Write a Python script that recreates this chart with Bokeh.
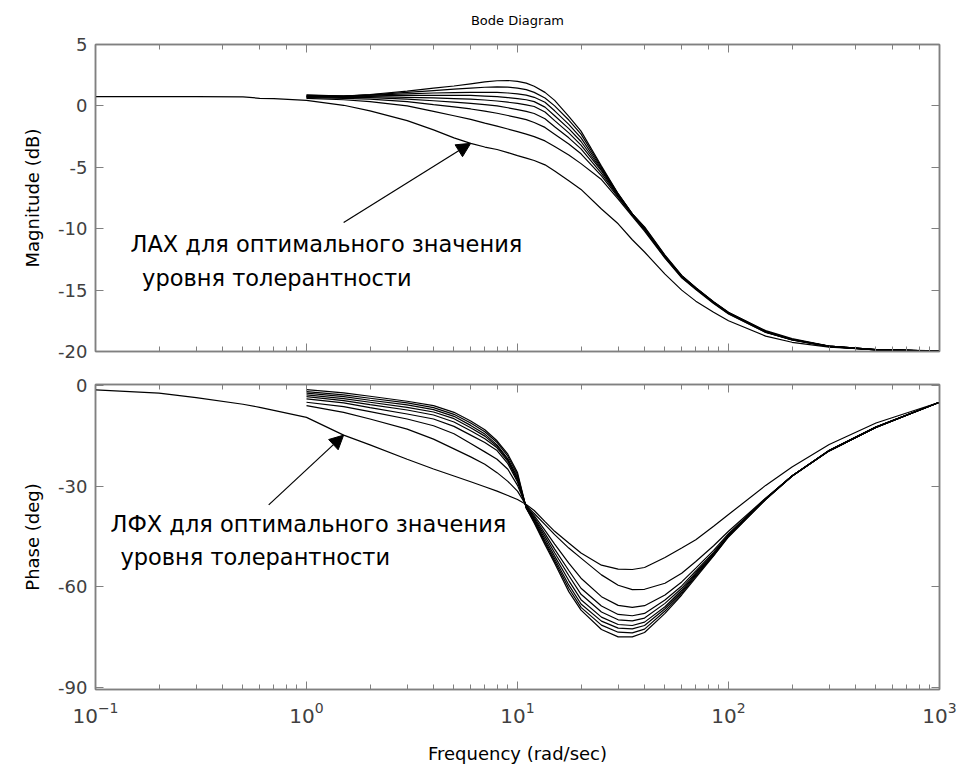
from bokeh.plotting import figure
from bokeh.models import Range1d, LogAxis, LinearAxis, FixedTicker, LogTicker, Arrow, NormalHead, Label
from bokeh.layouts import column
from bokeh.embed import file_html
from bokeh.resources import INLINE

# ---------------- data ----------------
FREQ = [1, 1.5, 2, 3, 4, 5, 6, 7, 8, 9, 10, 11, 12, 13.5, 15, 17.5, 20, 25, 30, 35,
        40, 50, 60, 70, 85, 100, 150, 200, 300, 500, 1000]

# optimal tolerance curve (starts at 0.1 rad/s)
OPT_FREQ = [0.1, 0.2, 0.3, 0.5, 0.6, 0.7] + FREQ
OPT_MAG = [0.75, 0.75, 0.75, 0.74, 0.62, 0.6,
           0.45, 0.05, -0.4, -1.2, -1.95, -2.6, -3.05, -3.35, -3.55, -3.8, -4.05, -4.25, -4.45, -4.8, -5.3,
           -6.1, -6.8, -8.4, -9.6, -10.9, -11.9, -13.7, -15.0, -15.9, -16.8, -17.5, -18.75, -19.25, -19.65, -19.85, -19.95]
OPT_PHASE = [-1.3, -2.3, -3.6, -5.6, -6.5, -7.4,
             -9.5, -14.8, -17.7, -22.0, -24.9, -27.0, -28.7, -30.2, -31.5, -32.8, -34.0, -35.5, -37.3, -40.6, -43.5,
             -47.0, -50.0, -53.6, -54.8, -54.9, -54.3, -51.3, -48.5, -46.0, -42.0, -38.5, -29.8, -24.3, -17.6, -11.2, -5.0]

# family of responses for other tolerance levels (start at 1 rad/s)
MAG_1 = [0.62, 0.5, 0.35, 0.0, -0.45, -0.8, -1.1, -1.4, -1.65, -1.88, -2.1, -2.3, -2.5, -2.85, -3.3, -4.0, -4.7, -6.0, -7.6, -9.0, -10.2, -12.4, -14.0, -14.95, -16.1, -16.95, -18.45, -19.05, -19.6, -19.87, -19.97]
MAG_2 = [0.68, 0.62, 0.55, 0.35, 0.1, -0.08, -0.25, -0.42, -0.6, -0.78, -0.95, -1.12, -1.35, -1.75, -2.3, -3.1, -3.9, -5.7, -7.45, -8.9, -10.1, -12.35, -13.95, -14.9, -16.05, -16.9, -18.42, -19.05, -19.6, -19.86, -19.97]
MAG_3 = [0.72, 0.7, 0.68, 0.55, 0.42, 0.3, 0.2, 0.1, 0.0, -0.15, -0.3, -0.45, -0.62, -1.05, -1.7, -2.6, -3.5, -5.5, -7.35, -8.85, -10.05, -12.3, -13.9, -14.9, -16.0, -16.9, -18.4, -19.03, -19.58, -19.86, -19.97]
MAG_4 = [0.75, 0.74, 0.76, 0.7, 0.65, 0.6, 0.55, 0.48, 0.4, 0.3, 0.2, 0.08, -0.05, -0.5, -1.2, -2.2, -3.2, -5.3, -7.3, -8.85, -10.0, -12.3, -13.9, -14.85, -16.0, -16.88, -18.4, -19.02, -19.58, -19.86, -19.97]
MAG_5 = [0.78, 0.77, 0.82, 0.85, 0.85, 0.85, 0.85, 0.8, 0.75, 0.68, 0.6, 0.5, 0.35, -0.1, -0.8, -1.85, -2.9, -5.2, -7.25, -8.85, -10.0, -12.25, -13.88, -14.85, -16.0, -16.86, -18.38, -19.02, -19.57, -19.85, -19.97]
MAG_6 = [0.8, 0.79, 0.87, 0.98, 1.05, 1.08, 1.1, 1.11, 1.1, 1.05, 0.98, 0.88, 0.7, 0.3, -0.4, -1.5, -2.6, -5.1, -7.2, -8.8, -9.95, -12.25, -13.85, -14.82, -15.98, -16.85, -18.36, -19.0, -19.57, -19.85, -19.97]
MAG_7 = [0.85, 0.8, 0.9, 1.1, 1.25, 1.36, 1.45, 1.52, 1.55, 1.53, 1.45, 1.32, 1.1, 0.65, 0.0, -1.15, -2.3, -5.0, -7.18, -8.8, -9.9, -12.2, -13.83, -14.8, -15.97, -16.83, -18.35, -19.0, -19.56, -19.85, -19.97]
MAG_8 = [0.9, 0.8, 0.93, 1.2, 1.45, 1.62, 1.8, 1.95, 2.05, 2.07, 2.0, 1.85, 1.6, 1.1, 0.45, -0.85, -2.05, -4.9, -7.15, -8.8, -9.85, -12.15, -13.8, -14.8, -15.95, -16.8, -18.3, -18.95, -19.55, -19.85, -19.97]

PHASE_1 = [-6.0, -8.0, -10.0, -13.0, -16.0, -18.9, -21.3, -23.5, -26.0, -28.6, -31.5, -35.8, -38.2, -41.5, -44.5, -48.5, -51.5, -56.5, -59.6, -60.9, -60.8, -59.0, -56.0, -52.5, -47.8, -43.5, -33.6, -27.0, -19.3, -12.3, -5.0]
PHASE_2 = [-5.0, -6.3, -7.8, -10.0, -12.0, -14.4, -17.3, -19.8, -22.0, -25.0, -29.8, -36.0, -38.8, -43.2, -47.3, -53.0, -57.5, -63.0, -65.6, -66.2, -65.7, -62.5, -58.6, -54.5, -49.2, -44.2, -33.7, -27.0, -19.4, -12.4, -5.0]
PHASE_3 = [-4.0, -5.2, -6.6, -8.5, -10.0, -12.2, -14.8, -17.0, -19.4, -23.3, -28.8, -36.2, -39.3, -44.2, -48.8, -55.2, -60.5, -65.8, -68.3, -68.7, -68.0, -64.0, -59.8, -55.3, -49.8, -44.5, -33.8, -27.0, -19.4, -12.4, -5.0]
PHASE_4 = [-3.3, -4.5, -5.7, -7.3, -8.8, -10.9, -13.5, -15.9, -18.6, -22.6, -28.3, -36.3, -39.7, -45.0, -49.9, -56.7, -62.3, -67.6, -69.9, -70.2, -69.4, -65.0, -60.5, -55.8, -50.1, -44.7, -33.8, -27.0, -19.4, -12.4, -5.0]
PHASE_5 = [-2.8, -3.9, -5.0, -6.5, -7.9, -9.9, -12.6, -15.1, -18.1, -22.2, -27.8, -36.4, -40.1, -45.8, -50.9, -58.2, -63.9, -69.1, -71.3, -71.6, -70.6, -66.0, -61.1, -56.2, -50.4, -44.8, -33.9, -27.0, -19.5, -12.5, -5.0]
PHASE_6 = [-2.3, -3.3, -4.4, -5.8, -7.2, -9.2, -11.9, -14.5, -17.7, -21.9, -27.3, -36.5, -40.4, -46.5, -51.7, -59.5, -65.2, -70.3, -72.4, -72.6, -71.6, -66.6, -61.6, -56.5, -50.6, -44.9, -33.9, -27.0, -19.5, -12.5, -5.0]
PHASE_7 = [-1.8, -2.8, -3.8, -5.2, -6.6, -8.6, -11.2, -13.8, -17.0, -21.1, -26.6, -36.5, -40.7, -47.0, -52.4, -60.5, -66.2, -71.5, -73.6, -73.8, -72.7, -67.3, -62.0, -56.9, -50.7, -45.0, -34.0, -27.0, -19.5, -12.5, -5.0]
PHASE_8 = [-1.2, -2.2, -3.2, -4.7, -6.0, -8.0, -10.6, -13.2, -16.5, -20.5, -26.0, -36.6, -41.0, -47.5, -53.0, -61.5, -67.0, -72.8, -75.0, -75.0, -73.7, -68.0, -62.5, -57.3, -50.8, -45.2, -34.0, -27.1, -19.5, -12.5, -5.0]

MAG_SERIES = [MAG_1, MAG_2, MAG_3, MAG_4, MAG_5, MAG_6, MAG_7, MAG_8]
PHASE_SERIES = [PHASE_1, PHASE_2, PHASE_3, PHASE_4, PHASE_5, PHASE_6, PHASE_7, PHASE_8]

MAG_TICKS = [-20, -15, -10, -5, 0, 5]
PHASE_TICKS = [-90, -60, -30, 0]

TITLE = "Bode Diagram"
MAG_LABEL = "Magnitude (dB)"
PHASE_LABEL = "Phase (deg)"
FREQ_LABEL = "Frequency (rad/sec)"
NOTE_MAG = ["ЛАХ для оптимального значения", "уровня толерантности"]
NOTE_PHASE = ["ЛФХ для оптимального значения", "уровня толерантности"]

# annotation anchors (data units)
MAG_NOTE_POS = [(0.1465, -11.22), (0.1663, -13.99)]
PHASE_NOTE_POS = [(0.1178, -41.3), (0.1313, -51.2)]
MAG_ARROW_TAIL = (1.50, -9.5)
MAG_ARROW_TIP_IDX = 12      # OPT point at 6 rad/s
PHASE_ARROW_TAIL = (0.662, -35.6)
PHASE_ARROW_TIP_IDX = 7     # OPT point at 1.5 rad/s

FONT = "DejaVu Sans"
AXC = "#808080"
TICK_TXT = "#404040"


def style_axis(ax, show_labels, size="18px"):
    ax.axis_line_color = AXC
    ax.axis_line_width = 1.5
    ax.major_tick_line_color = AXC
    ax.minor_tick_line_color = AXC
    ax.major_tick_in = 8
    ax.major_tick_out = 0
    ax.minor_tick_in = 5
    ax.minor_tick_out = 0
    ax.major_label_text_font = FONT
    ax.major_label_text_color = TICK_TXT
    ax.axis_label_text_font = FONT
    ax.axis_label_text_font_style = "normal"
    ax.axis_label_text_color = "#000000"
    ax.axis_label_text_font_size = "18px"
    if show_labels:
        ax.major_label_text_font_size = size
        ax.major_label_text_alpha = 1.0
    else:
        ax.major_label_text_font_size = "2px"
        ax.major_label_text_alpha = 0.0
        ax.major_label_standoff = 0


def make_fig(height, yr, yticks, ylabel, top, bottom):
    p = figure(width=957, height=height, x_axis_type="log",
               x_range=Range1d(0.1, 1000), y_range=yr,
               output_backend="svg", toolbar_location=None,
               min_border_left=95, min_border_right=18,
               min_border_top=top, min_border_bottom=bottom)
    p.background_fill_color = "white"
    p.border_fill_color = "white"
    p.outline_line_color = AXC
    p.outline_line_width = 1.5
    p.grid.visible = False
    left = p.left[0]
    left.ticker = FixedTicker(ticks=yticks)
    left.major_label_overrides = {t: str(t) for t in yticks}
    left.axis_label = ylabel
    style_axis(left, True)
    left.axis_label_standoff = 12
    left.major_label_standoff = 8
    bottom_ax = p.below[0]
    style_axis(bottom_ax, False)
    right = LinearAxis(ticker=FixedTicker(ticks=yticks))
    style_axis(right, False)
    p.add_layout(right, "right")
    above = LogAxis(ticker=LogTicker())
    style_axis(above, False)
    p.add_layout(above, "above")
    return p, above


p1, p1_above = make_fig(367, Range1d(-20, 5), MAG_TICKS, MAG_LABEL, 44, 16)
# the chart title is carried by the top axis label, centred over the frame
p1_above.axis_label = TITLE
p1_above.axis_label_text_font_size = "13px"
p1_above.axis_label_standoff = 17

p2, _ = make_fig(402, Range1d(-90.7, 0.3), PHASE_TICKS, PHASE_LABEL, 17, 80)
xb = p2.below[0]
style_axis(xb, True, "20px")
xb.axis_label = FREQ_LABEL
xb.major_label_standoff = 12
xb.axis_label_standoff = 17

# curves
p1.line(OPT_FREQ, OPT_MAG, line_color="black", line_width=1.2)
p2.line(OPT_FREQ, OPT_PHASE, line_color="black", line_width=1.2)
for m in MAG_SERIES:
    p1.line(FREQ, m, line_color="black", line_width=1.2)
for ph in PHASE_SERIES:
    p2.line(FREQ, ph, line_color="black", line_width=1.2)

# annotations
for (x, y), t in zip(MAG_NOTE_POS, NOTE_MAG):
    p1.add_layout(Label(x=x, y=y, text=t, text_font=FONT, text_font_size="22.5px",
                        text_color="black", text_baseline="alphabetic", text_align="left"))
for (x, y), t in zip(PHASE_NOTE_POS, NOTE_PHASE):
    p2.add_layout(Label(x=x, y=y, text=t, text_font=FONT, text_font_size="22.5px",
                        text_color="black", text_baseline="alphabetic", text_align="left"))

p1.add_layout(Arrow(end=NormalHead(size=14, fill_color="black", line_color="black"),
                    x_start=MAG_ARROW_TAIL[0], y_start=MAG_ARROW_TAIL[1],
                    x_end=OPT_FREQ[MAG_ARROW_TIP_IDX], y_end=OPT_MAG[MAG_ARROW_TIP_IDX],
                    line_color="black", line_width=1.2))
p2.add_layout(Arrow(end=NormalHead(size=14, fill_color="black", line_color="black"),
                    x_start=PHASE_ARROW_TAIL[0], y_start=PHASE_ARROW_TAIL[1],
                    x_end=OPT_FREQ[PHASE_ARROW_TIP_IDX], y_end=OPT_PHASE[PHASE_ARROW_TIP_IDX],
                    line_color="black", line_width=1.2))

layout = column(p1, p2, spacing=0)
open("out.html", "w").write(file_html(layout, INLINE))
